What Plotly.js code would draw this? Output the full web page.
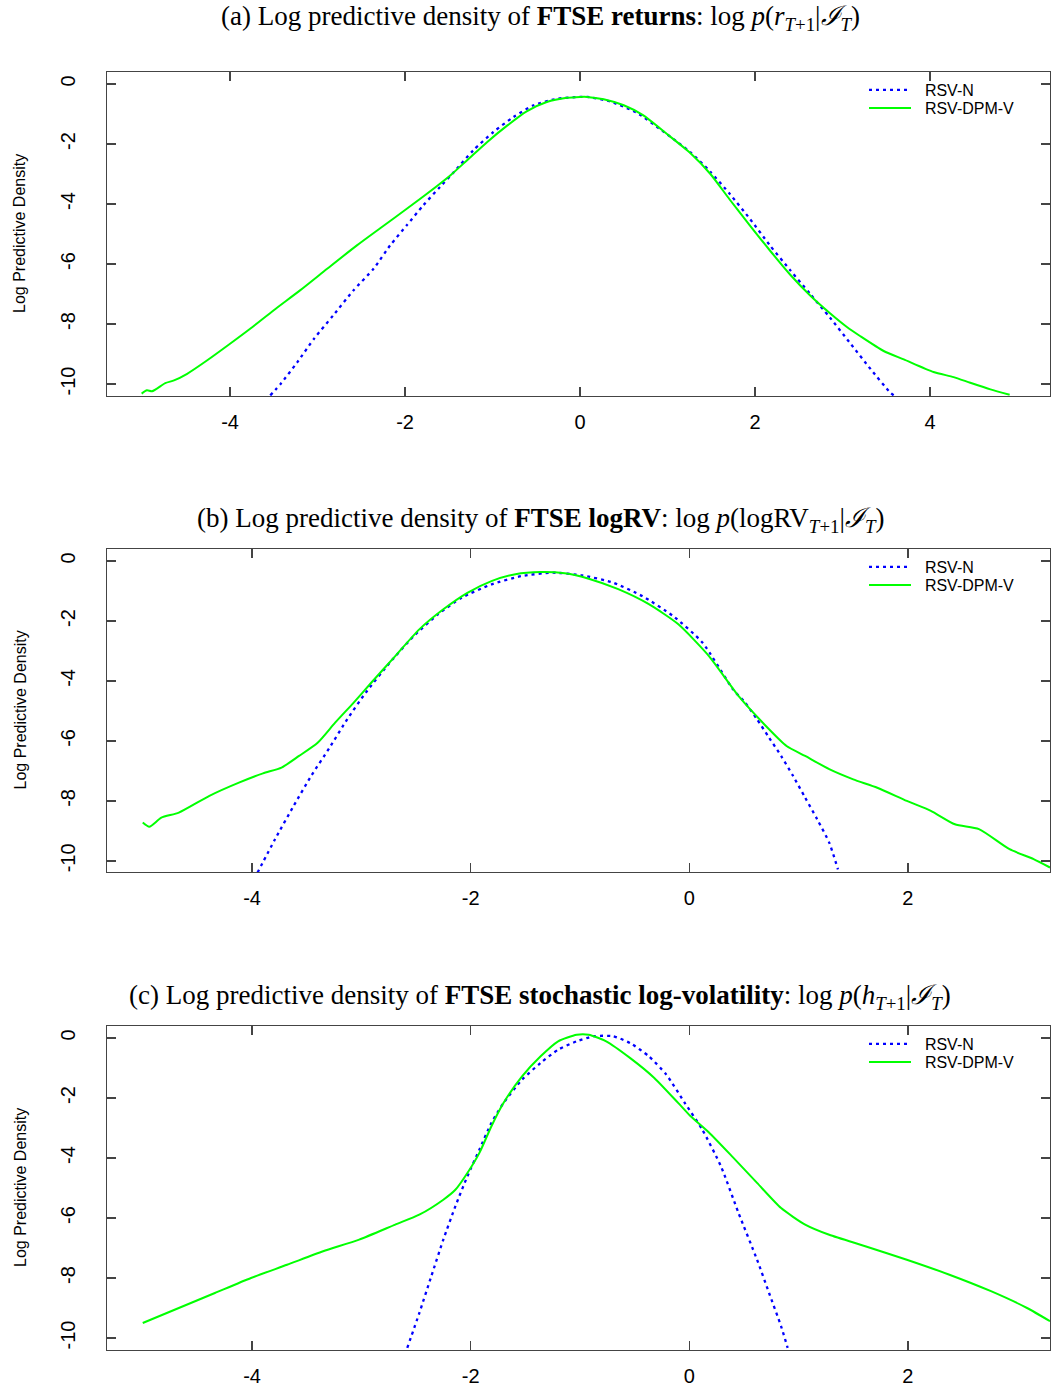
<!DOCTYPE html>
<html>
<head>
<meta charset="utf-8">
<script src="https://cdn.plot.ly/plotly-3.0.1.min.js"></script>
<style>html,body{margin:0;padding:0;background:#fff;}#chart{width:1051px;height:1388px;}</style>
</head>
<body>
<div id="chart"></div>
<script>
// ---- Panel (a): FTSE returns ----
var retX_N   = [-3.54,-3.42,-3.23,-3.04,-2.82,-2.59,-2.36,-2.17,-1.98,-1.79,-1.60,-1.44,-1.22,-0.99,-0.76,-0.53,-0.26,0.00,0.08,0.34,0.65,0.95,1.26,1.49,1.71,1.94,2.17,2.40,2.63,2.86,3.09,3.32,3.55,3.62];
var retY_N   = [-10.38,-9.99,-9.27,-8.49,-7.71,-6.88,-6.16,-5.38,-4.71,-4.04,-3.43,-2.93,-2.21,-1.60,-1.10,-0.71,-0.49,-0.43,-0.43,-0.58,-0.96,-1.58,-2.27,-2.93,-3.66,-4.49,-5.38,-6.20,-7.00,-7.80,-8.65,-9.50,-10.30,-10.45];
var retX_DPM = [-5.01,-4.95,-4.89,-4.74,-4.64,-4.49,-4.26,-4.00,-3.77,-3.50,-3.20,-2.89,-2.55,-2.28,-1.98,-1.75,-1.48,-1.29,-1.06,-0.83,-0.61,-0.38,-0.15,0.00,0.08,0.27,0.50,0.72,0.99,1.26,1.49,1.71,1.94,2.17,2.40,2.63,2.86,3.05,3.20,3.47,3.70,4.04,4.27,4.46,4.69,4.91];
var retY_DPM = [-10.32,-10.21,-10.24,-9.97,-9.88,-9.66,-9.21,-8.66,-8.16,-7.54,-6.88,-6.16,-5.38,-4.80,-4.16,-3.66,-3.04,-2.54,-1.93,-1.38,-0.91,-0.60,-0.46,-0.43,-0.43,-0.51,-0.71,-1.04,-1.66,-2.30,-3.00,-3.85,-4.71,-5.55,-6.35,-7.05,-7.65,-8.10,-8.40,-8.90,-9.18,-9.60,-9.77,-9.96,-10.18,-10.36];

// ---- Panel (b): FTSE logRV ----
var rvX_N   = [-3.95,-3.79,-3.62,-3.46,-3.29,-3.13,-2.96,-2.74,-2.52,-2.30,-2.08,-1.81,-1.53,-1.25,-0.98,-0.70,-0.43,-0.15,0.12,0.40,0.51,0.62,0.73,0.84,0.95,1.06,1.17,1.28,1.36];
var rvY_N   = [-10.39,-9.28,-8.17,-7.17,-6.22,-5.28,-4.39,-3.39,-2.50,-1.78,-1.22,-0.78,-0.50,-0.39,-0.48,-0.72,-1.17,-1.83,-2.72,-4.28,-4.72,-5.28,-5.89,-6.50,-7.17,-7.89,-8.61,-9.39,-10.28];
var rvX_DPM = [-5.00,-4.94,-4.83,-4.67,-4.39,-4.12,-3.90,-3.73,-3.57,-3.40,-3.24,-3.07,-2.91,-2.69,-2.47,-2.25,-2.03,-1.81,-1.59,-1.36,-1.14,-0.92,-0.65,-0.37,-0.10,0.18,0.45,0.73,0.89,1.06,1.28,1.50,1.72,1.99,2.21,2.43,2.65,2.93,3.15,3.30];
var rvY_DPM = [-8.72,-8.86,-8.56,-8.39,-7.83,-7.39,-7.08,-6.89,-6.50,-6.06,-5.39,-4.72,-4.06,-3.17,-2.28,-1.61,-1.06,-0.67,-0.44,-0.37,-0.41,-0.59,-0.94,-1.44,-2.11,-3.17,-4.50,-5.61,-6.17,-6.50,-6.94,-7.28,-7.56,-8.00,-8.33,-8.78,-8.94,-9.61,-9.94,-10.22];

// ---- Panel (c): FTSE stochastic log-volatility ----
var hX_N   = [-2.58,-2.47,-2.36,-2.25,-2.14,-2.03,-1.92,-1.81,-1.70,-1.53,-1.36,-1.20,-1.03,-0.87,-0.70,-0.54,-0.37,-0.21,-0.04,0.12,0.29,0.45,0.62,0.73,0.84,0.90];
var hY_N   = [-10.33,-9.17,-7.94,-6.72,-5.61,-4.61,-3.72,-2.83,-2.17,-1.39,-0.83,-0.39,-0.11,0.06,0.06,-0.17,-0.61,-1.22,-2.17,-3.06,-4.28,-5.83,-7.39,-8.50,-9.61,-10.33];
var hX_DPM = [-5.00,-4.67,-4.34,-4.01,-3.68,-3.35,-3.02,-2.69,-2.47,-2.25,-2.14,-2.03,-1.92,-1.81,-1.70,-1.53,-1.36,-1.20,-1.03,-0.92,-0.76,-0.54,-0.32,-0.10,0.01,0.18,0.40,0.62,0.84,1.06,1.28,1.61,1.99,2.38,2.76,3.09,3.30];
var hY_DPM = [-9.50,-9.00,-8.50,-8.00,-7.56,-7.11,-6.72,-6.22,-5.89,-5.39,-5.06,-4.50,-3.83,-2.94,-2.17,-1.28,-0.61,-0.11,0.11,0.11,-0.11,-0.67,-1.33,-2.17,-2.60,-3.15,-3.98,-4.83,-5.67,-6.22,-6.56,-6.94,-7.39,-7.89,-8.44,-9.00,-9.44];

var seriesNames = ['RSV-N', 'RSV-DPM-V'];
var yTicks = [0, -2, -4, -6, -8, -10];
var xTicksA = [-4, -2, 0, 2, 4];
var xTicksBC = [-4, -2, 0, 2];
var panelTitles = [
  '(a) Log predictive density of <b>FTSE returns</b>: log <i>p</i>(<i>r</i><sub><i>T</i>+1</sub>|<i>ℐ</i><sub><i>T</i></sub>)',
  '(b) Log predictive density of <b>FTSE logRV</b>: log <i>p</i>(logRV<sub><i>T</i>+1</sub>|<i>ℐ</i><sub><i>T</i></sub>)',
  '(c) Log predictive density of <b>FTSE stochastic log-volatility</b>: log <i>p</i>(<i>h</i><sub><i>T</i>+1</sub>|<i>ℐ</i><sub><i>T</i></sub>)'
];
var yTitle = 'Log Predictive Density';

var W = 1051, H = 1388;
var BLUE = '#0000ff', GREEN = '#00ff00';
var sans = '"Liberation Sans", Arial, sans-serif';

// one legend per entry so each row can be placed exactly
function mkTrace(x, y, idx, isN) {
  var legNum = (idx - 1) * 2 + (isN ? 1 : 2);
  return {
    x: x, y: y, type: 'scatter', mode: 'lines',
    name: '\u00a0\u00a0' + seriesNames[isN ? 0 : 1],
    xaxis: 'x' + (idx === 1 ? '' : idx), yaxis: 'y' + (idx === 1 ? '' : idx),
    legend: legNum === 1 ? 'legend' : 'legend' + legNum,
    line: isN ? {color: BLUE, width: 2.3, dash: '3px,4px', shape: 'spline', smoothing: 0.6}
              : {color: GREEN, width: 2, shape: 'spline', smoothing: 0.6}
  };
}

var data = [
  mkTrace(retX_N, retY_N, 1, true),
  mkTrace(retX_DPM, retY_DPM, 1, false),
  mkTrace(rvX_N, rvY_N, 2, true),
  mkTrace(rvX_DPM, rvY_DPM, 2, false),
  mkTrace(hX_N, hY_N, 3, true),
  mkTrace(hX_DPM, hY_DPM, 3, false)
];

var panels = [
  {top: 72, bottom: 396, xr: [-5.406, 5.371], yr: [-10.4, 0.4], xt: xTicksA},
  {top: 549, bottom: 872, xr: [-5.327, 3.30], yr: [-10.37, 0.4], xt: xTicksBC},
  {top: 1026, bottom: 1350, xr: [-5.327, 3.30], yr: [-10.4, 0.4], xt: xTicksBC}
];
var titleY = [18, 520, 997];
var left = 107, right = 1050;

var axisCommon = {
  showgrid: false, zeroline: false, showline: true, mirror: 'ticks',
  linecolor: '#444', linewidth: 1.3,
  ticks: 'inside', ticklen: 9, tickwidth: 1.2, tickcolor: '#444',
  tickfont: {family: sans, size: 20, color: '#000'},
  automargin: false, fixedrange: true
};

var layout = {
  width: W, height: H,
  margin: {l: 0, r: 0, t: 0, b: 0},
  paper_bgcolor: '#fff', plot_bgcolor: '#fff',
  showlegend: true,
  annotations: [],
  font: {family: sans, color: '#000'}
};

panels.forEach(function (p, i) {
  var n = i + 1, sfx = n === 1 ? '' : String(n);
  var yd = [1 - p.bottom / H, 1 - p.top / H];
  layout['xaxis' + sfx] = Object.assign({}, axisCommon, {
    domain: [left / W, right / W], range: p.xr, tickvals: p.xt,
    ticktext: p.xt.map(String), anchor: 'y' + sfx, ticklabelstandoff: 8
  });
  layout['yaxis' + sfx] = Object.assign({}, axisCommon, {
    domain: yd, range: p.yr, tickvals: yTicks,
    ticktext: yTicks.map(String), tickangle: -90, anchor: 'x' + sfx, ticklabelstandoff: 23
  });
  [18, 36].forEach(function (dy, k) {
    var legNum = i * 2 + k + 1;
    layout[legNum === 1 ? 'legend' : 'legend' + legNum] = {
      x: 864 / W, y: 1 - (p.top + dy) / H, xanchor: 'left', yanchor: 'middle',
      bgcolor: 'rgba(0,0,0,0)', borderwidth: 0,
      font: {family: sans, size: 16, color: '#000'},
      tracegroupgap: 0, itemwidth: 42
    };
  });
  layout.annotations.push({
    text: panelTitles[i], xref: 'paper', yref: 'paper',
    x: 540 / W, y: 1 - titleY[i] / H, xanchor: 'center', yanchor: 'middle',
    showarrow: false, font: {family: '"Liberation Serif", "Times New Roman", serif', size: 27, color: '#000'}
  });
  layout.annotations.push({
    text: yTitle, xref: 'paper', yref: 'paper',
    x: 20 / W, y: 1 - ((p.top + p.bottom) / 2) / H, xanchor: 'center', yanchor: 'middle',
    textangle: -90, showarrow: false,
    font: {family: sans, size: 16, color: '#000'}
  });
});

Plotly.newPlot('chart', data, layout, {displayModeBar: false, staticPlot: true});
</script>
</body>
</html>
